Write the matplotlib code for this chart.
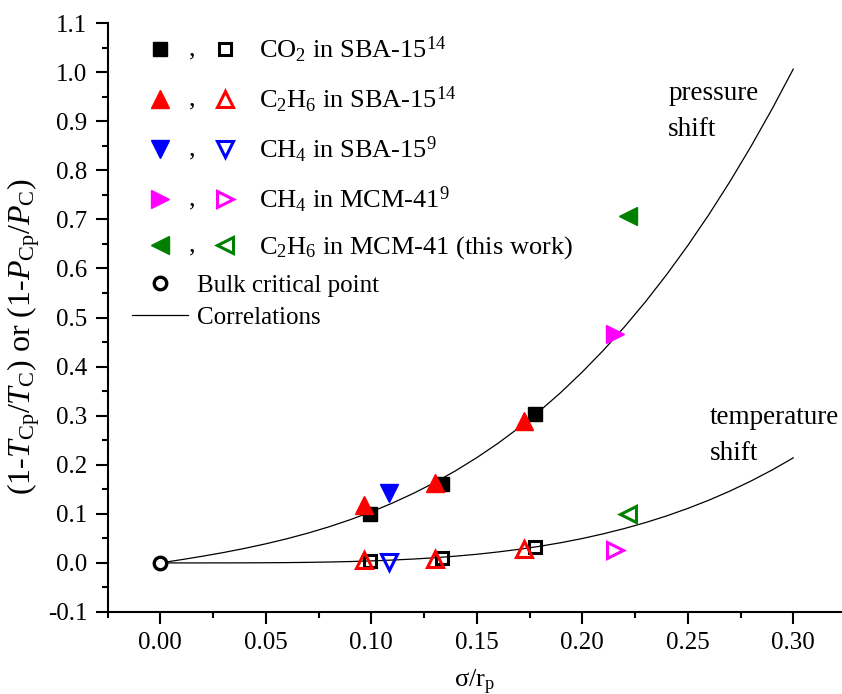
import numpy as np
import matplotlib
matplotlib.use('Agg')
import matplotlib.pyplot as plt
from matplotlib.lines import Line2D
from matplotlib.text import Text
from matplotlib.legend_handler import HandlerBase
from matplotlib.ticker import MultipleLocator, FormatStrFormatter

plt.rcParams['font.family'] = ['Liberation Serif', 'DejaVu Serif']
plt.rcParams['mathtext.fontset'] = 'custom'
plt.rcParams['mathtext.rm'] = 'Liberation Serif'
plt.rcParams['mathtext.it'] = 'Liberation Serif:italic'
plt.rcParams['mathtext.bf'] = 'Liberation Serif:bold'

# data: x = sigma/r_p, "press" = 1-Pcp/Pc, "temp" = 1-Tcp/Tc
co2_x = [0.0995, 0.1335, 0.1775]
co2_press = [0.100, 0.161, 0.303]
co2_temp = [0.004, 0.011, 0.032]

c2h6_sba_x = [0.0967, 0.130, 0.1722]
c2h6_sba_press = [0.118, 0.162, 0.289]
c2h6_sba_temp = [0.006, 0.0075, 0.0285]

ch4_sba_x = [0.1082]
ch4_sba_press = [0.143]
ch4_sba_temp = [0.001]

ch4_mcm_x = [0.2156]
ch4_mcm_press = [0.466]
ch4_mcm_temp = [0.0265]

c2h6_mcm_x = [0.2215]
c2h6_mcm_press = [0.707]
c2h6_mcm_temp = [0.099]

bulk_x = [0.0]
bulk_y = [0.0]

# correlation curves, read at steps of 0.01
corr_x = [0.00, 0.01, 0.02, 0.03, 0.04, 0.05, 0.06, 0.07, 0.08, 0.09, 0.10,
          0.11, 0.12, 0.13, 0.14, 0.15, 0.16, 0.17, 0.18, 0.19, 0.20,
          0.21, 0.22, 0.23, 0.24, 0.25, 0.26, 0.27, 0.28, 0.29, 0.30]
corr_press = [0.0, 0.0066, 0.0136, 0.0212, 0.0296, 0.0389, 0.0492, 0.0607,
              0.0736, 0.0880, 0.1040, 0.1219, 0.1417, 0.1636, 0.1878, 0.2144,
              0.2435, 0.2754, 0.3102, 0.3479, 0.3889, 0.4331, 0.4809, 0.5322,
              0.5874, 0.6465, 0.7096, 0.7770, 0.8488, 0.9251, 1.0061]
corr_temp = [0.0, 0.0, 0.00001, 0.00005, 0.00015, 0.00034, 0.00065, 0.00113,
             0.00184, 0.0028, 0.0041, 0.0058, 0.0079, 0.0105, 0.0138, 0.0176,
             0.0223, 0.0277, 0.0340, 0.0413, 0.0497, 0.0593, 0.0701, 0.0822,
             0.0958, 0.1110, 0.1278, 0.1464, 0.1669, 0.1894, 0.214]

labels = [r'CO$_2$ in SBA-15$^{14}$',
          r'C$_2$H$_6$ in SBA-15$^{14}$',
          r'CH$_4$ in SBA-15$^{9}$',
          r'CH$_4$ in MCM-41$^{9}$',
          r'C$_2$H$_6$ in MCM-41 (this work)']

FS = 18
LFS = 19


class PairHandler(HandlerBase):
    # filled marker , open marker
    def create_artists(self, legend, orig_handle, xdescent, ydescent,
                       width, height, fontsize, trans):
        full, hollow = orig_handle
        y = (height - ydescent) / 2
        x1 = -xdescent + 6.5
        x2 = -xdescent + width - 6.5
        a = Line2D([x1], [y])
        a.update_from(full)
        a.set_linestyle('none')
        b = Line2D([x2], [y])
        b.update_from(hollow)
        b.set_linestyle('none')
        c = Text((x1 + x2) / 2, y - 0.25 * fontsize, ',', ha='center',
                 va='baseline', fontsize=fontsize, family='Liberation Serif')
        for art in (a, b, c):
            art.set_transform(trans)
        return [a, b, c]


fig = plt.figure(figsize=(8.42, 6.94), dpi=100)
ax = fig.add_axes([107.5 / 842, 82 / 694, (842 - 107.5) / 842, (612 - 23) / 694])

ax.plot(corr_x, corr_press, color='black', lw=0.9)
line_corr, = ax.plot(corr_x, corr_temp, color='black', lw=0.9)

mk = dict(ls='none', ms=13)
ms_sq = dict(ls='none', ms=10)
p1, = ax.plot(co2_x, co2_press, marker='s', color='black', **ms_sq)
q1, = ax.plot(co2_x, co2_temp, marker='s', mfc='none', mec='black', mew=2.2, ls='none', ms=8.5)
p2, = ax.plot(c2h6_sba_x, c2h6_sba_press, marker='^', color='red', **mk)
q2, = ax.plot(c2h6_sba_x, c2h6_sba_temp, marker='^', mfc='none', mec='red', mew=2.2, ls='none', ms=11.5)
p3, = ax.plot(ch4_sba_x, ch4_sba_press, marker='v', color='blue', **mk)
q3, = ax.plot(ch4_sba_x, ch4_sba_temp, marker='v', mfc='none', mec='blue', mew=2.2, ls='none', ms=11.5)
p4, = ax.plot(ch4_mcm_x, ch4_mcm_press, marker='>', color='magenta', **mk)
q4, = ax.plot(ch4_mcm_x, ch4_mcm_temp, marker='>', mfc='none', mec='magenta', mew=2.2, ls='none', ms=11.5)
p5, = ax.plot(c2h6_mcm_x, c2h6_mcm_press, marker='<', color='green', **mk)
q5, = ax.plot(c2h6_mcm_x, c2h6_mcm_temp, marker='<', mfc='none', mec='green', mew=2.2, ls='none', ms=11.5)
bulk, = ax.plot(bulk_x, bulk_y, marker='o', mfc='white', mec='black', mew=2.4, ls='none', ms=9, zorder=5)
pairs = [(p1, q1), (p2, q2), (p3, q3), (p4, q4), (p5, q5)]

ax.set_xlim(-0.025, -0.025 + (842 - 107.5) / 2110)
ax.set_ylim(-0.1, 1.1)
ax.xaxis.set_major_locator(MultipleLocator(0.05))
ax.xaxis.set_minor_locator(MultipleLocator(0.025))
ax.yaxis.set_major_locator(MultipleLocator(0.1))
ax.yaxis.set_minor_locator(MultipleLocator(0.05))
ax.xaxis.set_major_formatter(FormatStrFormatter('%.2f'))
ax.yaxis.set_major_formatter(FormatStrFormatter('%.1f'))
ax.spines['top'].set_visible(False)
ax.spines['right'].set_visible(False)
for s in ('left', 'bottom'):
    ax.spines[s].set_linewidth(1.5)
ax.tick_params(which='major', direction='out', length=8.5, width=1.5, labelsize=FS, pad=6)
ax.tick_params(which='minor', direction='out', length=4.5, width=1.5)

ax.set_xlabel(r'σ/r$_{\mathrm{p}}$', fontsize=19, labelpad=10)
ax.set_ylabel(r'(1-$T_{\mathrm{Cp}}$/$T_{\mathrm{C}}$) or (1-$P_{\mathrm{Cp}}$/$P_{\mathrm{C}}$)',
              fontsize=23)
ax.yaxis.set_label_coords(-0.089, 0.467)

# curve captions, one text per line
ax.text(0.2408, 0.943, 'pressure', fontsize=19.5, ha='left', va='baseline')
ax.text(0.2408, 0.870, 'shift', fontsize=19.5, ha='left', va='baseline')
ax.text(0.2603, 0.283, 'temperature', fontsize=19.5, ha='left', va='baseline')
ax.text(0.2603, 0.210, 'shift', fontsize=19.5, ha='left', va='baseline')

leg1 = ax.legend(pairs, labels, handler_map={tuple: PairHandler()},
                 loc='upper left', bbox_to_anchor=(151 / 842, 1 - 35 / 694),
                 bbox_transform=fig.transFigure, frameon=False, fontsize=LFS,
                 handlelength=3.15, handletextpad=0.95, labelspacing=0.75,
                 borderpad=0, borderaxespad=0)
ax.add_artist(leg1)
ax.legend([bulk, line_corr], ['Bulk critical point', 'Correlations'],
          loc='upper left', bbox_to_anchor=(132 / 842, 1 - 274 / 694),
          bbox_transform=fig.transFigure, frameon=False, fontsize=FS,
          handlelength=2.24, handletextpad=0.36, labelspacing=0.38,
          borderpad=0, borderaxespad=0, numpoints=1)

fig.savefig('out.png', dpi=100)
